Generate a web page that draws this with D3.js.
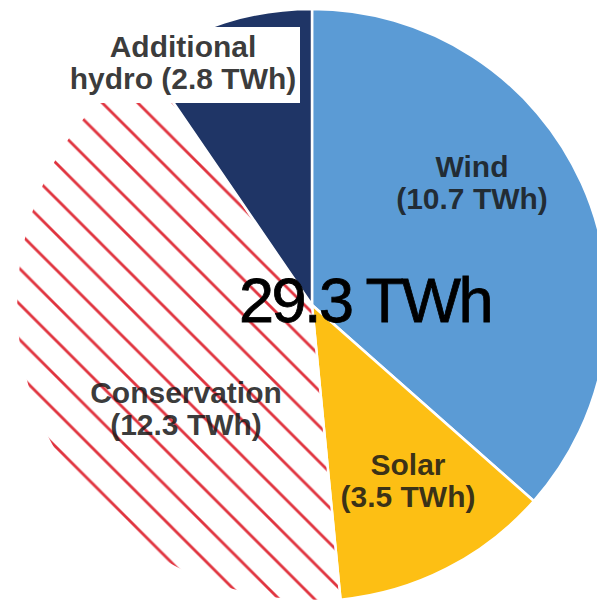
<!DOCTYPE html>
<html>
  <head>
    <title>29.3 TWh</title>
    <script src="https://d3js.org/d3.v7.min.js"></script>
    <style>
      body { margin: 0; background: #fff; }
      text { font-family: "Liberation Sans", Arial, Helvetica, sans-serif; }
    </style>
  </head>
  <body>
    <div id="chart"></div>
    <script>
      // Data
      const categories = ["Wind", "Solar", "Conservation", "Additional hydro"];
      const values = [10.7, 3.5, 12.3, 2.8];
      const labelLines = [
        ["Wind", "(10.7 TWh)"],
        ["Solar", "(3.5 TWh)"],
        ["Conservation", "(12.3 TWh)"],
        ["Additional", "hydro (2.8 TWh)"],
      ];
      const totalLabel = "29.3 TWh";

      const width = 597, height = 600;
      const cx = 312, cy = 305, radius = 296;

      const colors = d3.scaleOrdinal()
        .domain(categories)
        .range(["#5b9bd5", "#fdbf14", "url(#hatch)", "#1f3566"]);

      // first-line baseline of each label, relative to the pie centre
      const labelOffset = {
        "Wind": [160, -128],
        "Solar": [96, 170],
        "Conservation": [-126, 98],
        "Additional hydro": [-129, -248],
      };

      const svg = d3.select("#chart").append("svg")
        .attr("width", width)
        .attr("height", height);

      const defs = svg.append("defs");
      const step = 35.5;
      const pattern = defs.append("pattern")
        .attr("id", "hatch")
        .attr("patternUnits", "userSpaceOnUse")
        .attr("width", step)
        .attr("height", step)
        .attr("patternTransform", "translate(28,0)");
      pattern.append("rect")
        .attr("width", step).attr("height", step).attr("fill", "#fff");
      pattern.append("path")
        .attr("d", `M-5,-5L${step + 5},${step + 5}M${step - 5},-5L${step + 5},5M-5,${step - 5}L5,${step + 5}`)
        .attr("stroke", "#e0343f")
        .attr("stroke-width", 2.8);

      const data = categories.map((c, i) => ({ name: c, value: values[i], lines: labelLines[i] }));

      const pie = d3.pie().sort(null).value((d) => d.value);
      const arc = d3.arc().innerRadius(0).outerRadius(radius);

      const g = svg.append("g").attr("transform", `translate(${cx},${cy})`);

      g.selectAll("path.slice")
        .data(pie(data))
        .enter()
        .append("path")
        .attr("class", "slice")
        .attr("d", arc)
        .attr("fill", (d) => colors(d.data.name))
        .attr("stroke", "#fff")
        .attr("stroke-width", 2.5)
        .attr("stroke-linejoin", "round");

      // white box behind the hydro label
      g.append("rect")
        .attr("x", 70 - cx)
        .attr("y", 27 - cy)
        .attr("width", 230)
        .attr("height", 76)
        .attr("fill", "#fff");

      // slice labels
      const labels = g.selectAll("text.label")
        .data(data)
        .enter()
        .append("text")
        .attr("class", "label")
        .attr("text-anchor", "middle")
        .attr("font-size", 30)
        .attr("font-weight", "bold")
        .attr("fill", "#181818")
        .attr("fill-opacity", 0.86)
        .attr("transform", (d) => `translate(${labelOffset[d.name][0]},${labelOffset[d.name][1]})`);

      labels.selectAll("tspan")
        .data((d) => d.lines)
        .enter()
        .append("tspan")
        .attr("x", 0)
        .attr("y", (d, i) => i * 32)
        .text((d) => d);

      // total in the middle
      g.append("text")
        .attr("x", 365 - cx)
        .attr("y", 322 - cy)
        .attr("text-anchor", "middle")
        .attr("font-size", 63)
        .attr("letter-spacing", -2.5)
        .attr("fill", "#000")
        .attr("stroke", "#000")
        .attr("stroke-width", 0.8)
        .text(totalLabel);
    </script>
  </body>
</html>
